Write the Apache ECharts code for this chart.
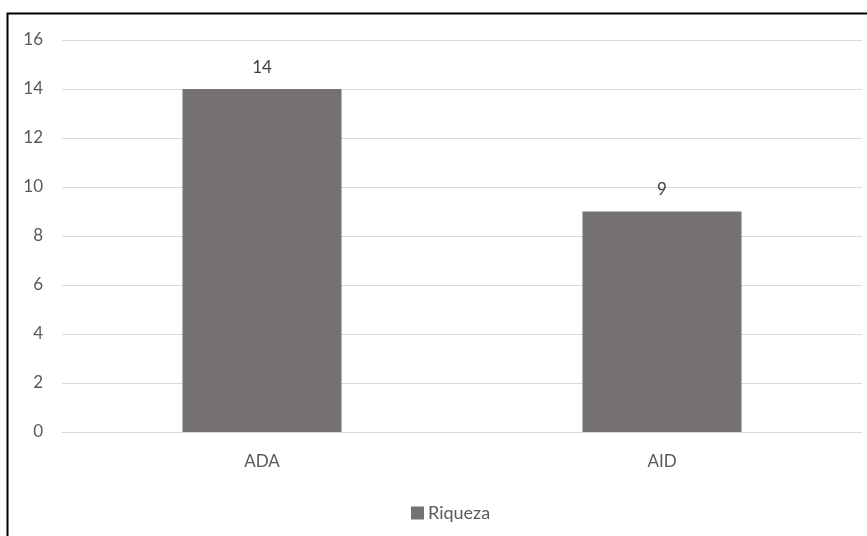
<!DOCTYPE html>
<html>
<head>
<meta charset="utf-8">
<script src="https://cdn.jsdelivr.net/npm/echarts@6/dist/echarts.min.js"></script>
<style>
html,body{margin:0;padding:0;background:#fff;}
#c{width:867px;height:536px;}
</style>
</head>
<body>
<div id="c"></div>
<script>
const categories = ['ADA', 'AID'];
const seriesName = 'Riqueza';
const values = [14, 9];
const yMin = 0, yMax = 16, yStep = 2;

const chart = echarts.init(document.getElementById('c'));
const font = 'Lato, "Open Sans", sans-serif';
chart.setOption({
  animation: false,
  backgroundColor: '#ffffff',
  graphic: [{
    type: 'rect',
    shape: { x: 7.5, y: 13.5, width: 900, height: 600 },
    style: { fill: 'none', stroke: '#000', lineWidth: 2 },
    silent: true
  }],
  grid: { left: 62, right: 5, top: 40, bottom: 104, containLabel: false },
  legend: {
    data: [seriesName],
    left: 406,
    top: 499,
    icon: 'rect',
    itemWidth: 13,
    itemHeight: 13,
    itemGap: 4,
    textStyle: { color: '#595959', fontSize: 18, fontFamily: font, padding: [0, 0, 0, -1] }
  },
  xAxis: {
    type: 'category',
    data: categories,
    axisLine: { show: true, lineStyle: { color: '#d9d9d9', width: 1 } },
    axisTick: { show: false },
    axisLabel: { color: '#595959', fontSize: 17, fontFamily: font, margin: 21 }
  },
  yAxis: {
    type: 'value',
    min: yMin,
    max: yMax,
    interval: yStep,
    axisLine: { show: false },
    axisTick: { show: false },
    axisLabel: { color: '#595959', fontSize: 17, fontFamily: font, margin: 19 },
    splitLine: { lineStyle: { color: '#d9d9d9', width: 1 } }
  },
  series: [{
    name: seriesName,
    type: 'bar',
    data: values,
    barWidth: 159,
    itemStyle: { color: '#767171' },
    label: {
      show: true,
      position: 'top',
      distance: 13,
      color: '#404040',
      fontSize: 17,
      fontFamily: font
    }
  }]
});
</script>
</body>
</html>
